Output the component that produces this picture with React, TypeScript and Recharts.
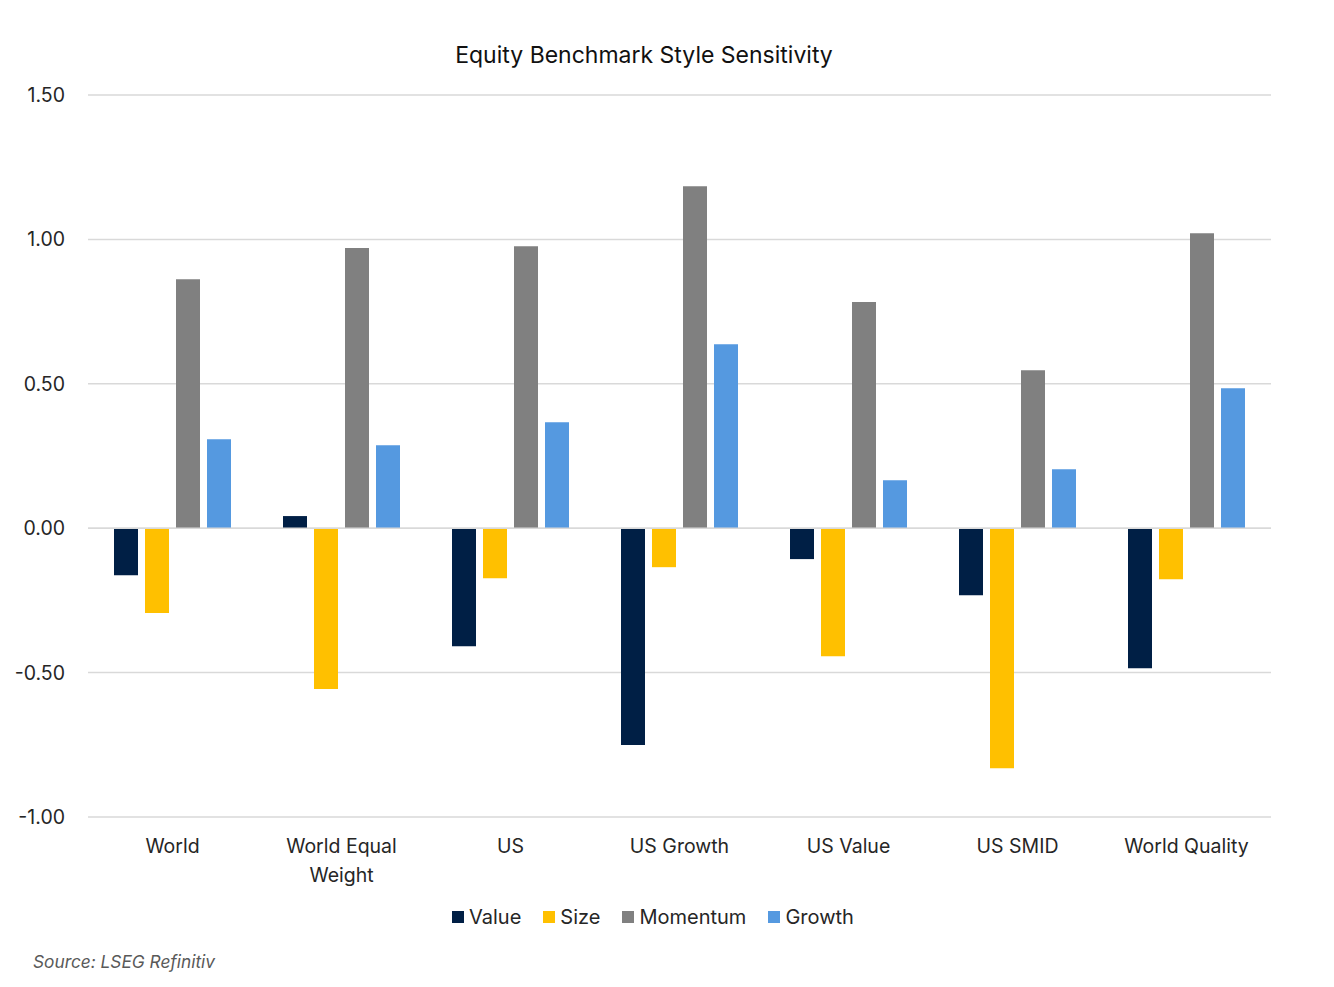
import React from "react";
import { BarChart, Bar, XAxis, YAxis, CartesianGrid, ReferenceLine } from "recharts";

const categories = ["World", "World Equal Weight", "US", "US Growth", "US Value", "US SMID", "World Quality"];
const valueSeries = [-0.163, 0.042, -0.409, -0.751, -0.107, -0.232, -0.485];
const sizeSeries = [-0.294, -0.557, -0.173, -0.135, -0.443, -0.831, -0.177];
const momentumSeries = [0.862, 0.970, 0.976, 1.184, 0.783, 0.547, 1.021];
const growthSeries = [0.308, 0.287, 0.367, 0.637, 0.166, 0.204, 0.485];
const yTicks = [-1, -0.5, 0, 0.5, 1, 1.5];
const seriesNames = ["Value", "Size", "Momentum", "Growth"];
const seriesColors = ["#001F45", "#FFC000", "#808080", "#5599E0"];

const data = categories.map((c, i) => ({
  name: c,
  Value: valueSeries[i],
  Size: sizeSeries[i],
  Momentum: momentumSeries[i],
  Growth: growthSeries[i],
}));

const FONT = "Inter, 'Noto Sans', sans-serif";

function wrapLabel(label: string, maxChars: number): string[] {
  const words = label.split(" ");
  const lines: string[] = [];
  let cur = "";
  for (const w of words) {
    const next = cur ? cur + " " + w : w;
    if (next.length > maxChars && cur) {
      lines.push(cur);
      cur = w;
    } else {
      cur = next;
    }
  }
  if (cur) lines.push(cur);
  return lines;
}

const XTick = (props: any) => {
  const { x, y, payload } = props;
  const lines = wrapLabel(String(payload.value), 13);
  return (
    <text x={x} y={y} textAnchor="middle" fontSize={19.5} fontFamily={FONT} fill="#262626">
      {lines.map((l, i) => (
        <tspan key={i} x={x} y={y + 28 + i * 29}>
          {l}
        </tspan>
      ))}
    </text>
  );
};

export default function App() {
  return (
    <div style={{ position: "absolute", left: 0, top: 0, width: 1334, height: 987, background: "#fff", fontFamily: FONT }}>
      <div style={{ position: "absolute", top: 41, left: 0, width: 1334, textAlign: "center", fontSize: 23, color: "#111" }}>
        <span style={{ position: "relative", left: -23 }}>Equity Benchmark Style Sensitivity</span>
      </div>
      <BarChart
        width={1334}
        height={987}
        data={data}
        margin={{ top: 95, right: 63, bottom: 90, left: 0 }}
        barSize={24}
        barGap={7}
      >
        <CartesianGrid vertical={false} stroke="#D9D9D9" strokeWidth={1.5} />
        <XAxis dataKey="name" axisLine={false} tickLine={false} tick={<XTick />} interval={0} height={80} />
        <YAxis
          domain={[-1, 1.5]}
          ticks={yTicks}
          axisLine={false}
          tickLine={false}
          width={88}
          tickMargin={17}
          tickFormatter={(v: number) => v.toFixed(2)}
          tick={{ fontSize: 19.5, fontFamily: FONT, fill: "#262626" }}
        />
        <ReferenceLine y={0} stroke="#D9D9D9" strokeWidth={1.5} />
        {seriesNames.map((s, i) => (
          <Bar key={s} dataKey={s} fill={seriesColors[i]} isAnimationActive={false} />
        ))}
      </BarChart>
      <div style={{ position: "absolute", top: 905, left: 452, display: "flex", alignItems: "center", fontSize: 20, color: "#262626" }}>
        {seriesNames.map((s, i) => (
          <div key={s} style={{ display: "flex", alignItems: "center", marginRight: 22 }}>
            <div style={{ width: 12, height: 12, background: seriesColors[i], marginRight: 5 }} />
            <span>{s}</span>
          </div>
        ))}
      </div>
      <div style={{ position: "absolute", top: 951, left: 33, fontSize: 17.3, fontStyle: "italic", color: "#595959" }}>
        Source: LSEG Refinitiv
      </div>
    </div>
  );
}
